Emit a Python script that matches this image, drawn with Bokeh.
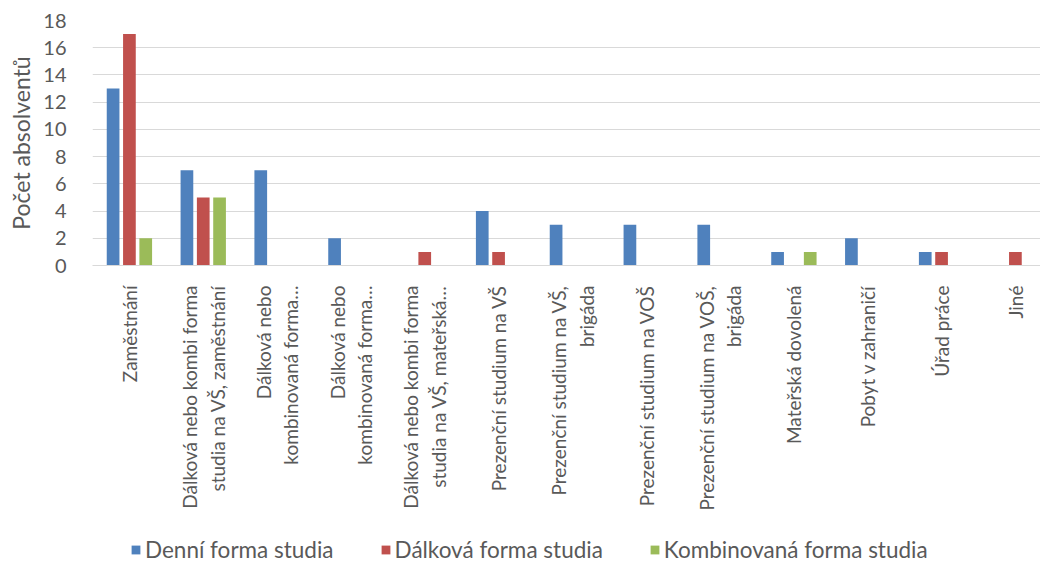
from math import pi
from bokeh.plotting import figure
from bokeh.layouts import column
from bokeh.models import ColumnDataSource, Range1d, FixedTicker, Legend, LegendItem
from bokeh.transform import dodge
from bokeh.embed import file_html
from bokeh.resources import INLINE

categories = [
    "Zaměstnání",
    "Dálková nebo kombi forma\nstudia na VŠ, zaměstnání",
    "Dálková nebo\nkombinovaná forma…",
    "Dálková nebo\nkombinovaná forma…",
    "Dálková nebo kombi forma\nstudia na VŠ, mateřská…",
    "Prezenční studium na VŠ",
    "Prezenční studium na VŠ,\nbrigáda",
    "Prezenční studium na VOŠ",
    "Prezenční studium na VOŠ,\nbrigáda",
    "Mateřská dovolená",
    "Pobyt v zahraničí",
    "Úřad práce",
    "Jiné",
]
denni = [13, 7, 7, 2, 0, 4, 3, 3, 3, 1, 2, 1, 0]
dalkova = [17, 5, 0, 0, 1, 1, 0, 0, 0, 0, 0, 1, 1]
kombinovana = [2, 5, 0, 0, 0, 0, 0, 0, 0, 1, 0, 0, 0]
series_names = ["Denní forma studia", "Dálková forma studia", "Kombinovaná forma studia"]
colors = ["#4F81BD", "#C0504D", "#9BBB59"]
y_ticks = list(range(0, 19, 2))

FONT = "Lato"
TXT = "#595959"

idx = list(range(len(categories)))
src = ColumnDataSource(dict(x=idx, d=denni, a=dalkova, k=kombinovana))

p = figure(width=1040, height=525, output_backend="svg", toolbar_location=None,
           x_range=Range1d(-0.5, 12.34), y_range=Range1d(0, 18),
           min_border_left=92, min_border_right=0, min_border_top=20, min_border_bottom=260)
p.outline_line_color = None

bw = 0.172
off = 0.221
for col, o, c in zip(["d", "a", "k"], [-off, 0, off], colors):
    p.vbar(x=dodge("x", o), top=col, width=bw, source=src, fill_color=c, line_color=None)

p.xgrid.grid_line_color = None
p.ygrid.grid_line_color = "#D9D9D9"
p.ygrid.grid_line_width = 1

p.yaxis.ticker = FixedTicker(ticks=y_ticks)
p.yaxis.axis_line_color = None
p.yaxis.major_tick_line_color = None
p.yaxis.minor_tick_line_color = None
p.yaxis.major_label_standoff = 20
p.yaxis.major_label_text_font = FONT
p.yaxis.major_label_text_font_size = "20px"
p.yaxis.major_label_text_color = TXT
p.yaxis.axis_label = "Počet absolventů"
p.yaxis.axis_label_text_font = FONT
p.yaxis.axis_label_text_font_size = "23px"
p.yaxis.axis_label_text_font_style = "normal"
p.yaxis.axis_label_text_color = TXT
p.yaxis.axis_label_standoff = 5

p.xaxis.ticker = FixedTicker(ticks=idx)
p.xaxis.major_label_overrides = {i: c for i, c in zip(idx, categories)}
p.xaxis.major_label_orientation = pi / 2
p.xaxis.axis_line_color = "#D9D9D9"
p.xaxis.major_tick_line_color = None
p.xaxis.minor_tick_line_color = None
p.xaxis.major_label_standoff = 14
p.xaxis.major_label_text_font = FONT
p.xaxis.major_label_text_font_size = "19px"
p.xaxis.major_label_text_color = TXT
p.xaxis.major_label_text_align = "center"

# legend strip below the chart (hidden copies of the series; only the legend shows)
p2 = figure(width=1040, height=38, output_backend="svg", toolbar_location=None,
            x_range=Range1d(-0.5, 12.34), y_range=Range1d(0, 18),
            min_border_left=0, min_border_right=0, min_border_top=0, min_border_bottom=0)
p2.outline_line_color = None
p2.xaxis.visible = False
p2.yaxis.visible = False
p2.grid.visible = False
lr = []
for col, c in zip(["d", "a", "k"], colors):
    r = p2.vbar(x="x", top=col, width=bw, source=src, fill_color=c, line_color=None)
    r.visible = False
    lr.append(r)
legend = Legend(items=[LegendItem(label=n, renderers=[r]) for n, r in zip(series_names, lr)],
                orientation="horizontal", location=(38, 0))
legend.label_text_font = FONT
legend.label_text_font_size = "22.5px"
legend.label_text_color = TXT
legend.glyph_width = 11
legend.glyph_height = 11
legend.spacing = 46
legend.label_standoff = 4
legend.padding = 0
legend.margin = 0
legend.inactive_fill_alpha = 0
legend.background_fill_alpha = 0
legend.border_line_color = None
p2.add_layout(legend, "center")

layout = column(p, p2, spacing=0)
open("out.html", "w").write(file_html(layout, INLINE))
